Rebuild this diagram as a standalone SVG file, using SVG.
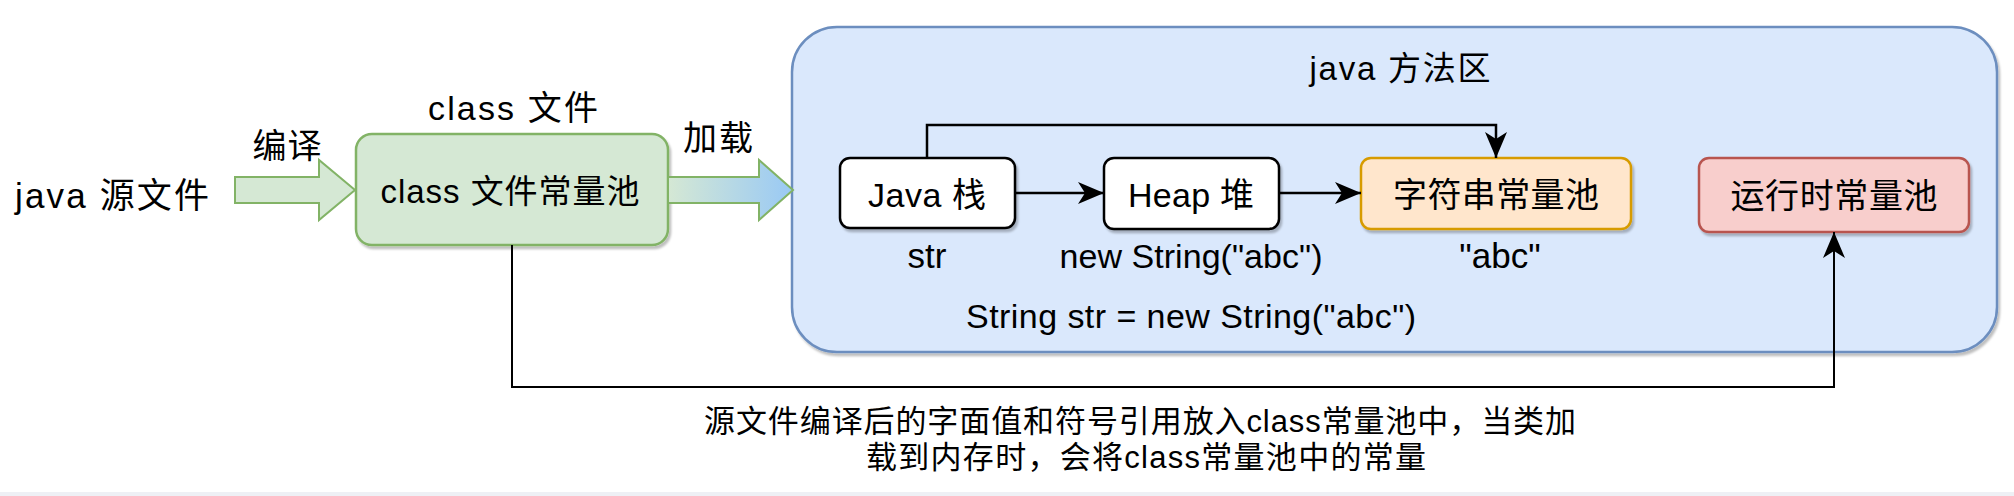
<svg xmlns="http://www.w3.org/2000/svg" width="2014" height="496" viewBox="0 0 2014 496">
<style>
text{font-family:"Liberation Sans","Noto Sans CJK SC",sans-serif;fill:#000}
.c{text-anchor:middle}
.box{stroke-width:2.5;filter:url(#sh)}
.ln{fill:none;stroke:#000;stroke-width:2.5}
</style>
<defs>
<filter id="sh" x="-10%" y="-10%" width="130%" height="140%">
<feDropShadow dx="2" dy="3" stdDeviation="1.2" flood-color="#000" flood-opacity="0.25"/>
</filter>
<linearGradient id="g2" x1="0" y1="0" x2="1" y2="0">
<stop offset="0" stop-color="#d5e8d4"/>
<stop offset="1" stop-color="#99c9f5"/>
</linearGradient>
<marker id="ah" viewBox="0 0 26 22" refX="26" refY="11" markerWidth="26" markerHeight="22" markerUnits="userSpaceOnUse" orient="auto">
<path d="M26,11 L0,0 L7,11 L0,22 Z" fill="#000"/>
</marker>
</defs>
<rect x="0" y="492" width="2014" height="4" fill="#eef0f5"/>

<g id="method-area">
<rect x="792" y="27" width="1205" height="325" rx="45" fill="#dae8fc" stroke="#6c8ebf" class="box"/>
<text x="1400" y="80" class="c" font-size="33" textLength="181" lengthAdjust="spacing">java 方法区</text>
</g>

<g id="java-source">
<text x="15" y="208" font-size="35" textLength="194" lengthAdjust="spacing">java 源文件</text>
</g>

<g id="compile-arrow">
<polygon points="235,177 319,177 319,160 355,190 319,220 319,203 235,203" fill="#d5e8d4" stroke="#82b366" stroke-width="2"/>
<text x="287" y="158" class="c" font-size="34" textLength="69" lengthAdjust="spacing">编译</text>
</g>

<g id="class-file">
<text x="513" y="120" class="c" font-size="34" textLength="170" lengthAdjust="spacing">class 文件</text>
<rect x="356" y="134" width="312" height="111" rx="16" fill="#d5e8d4" stroke="#82b366" class="box"/>
<text x="510" y="203" class="c" font-size="33" textLength="259" lengthAdjust="spacing">class 文件常量池</text>
</g>

<g id="load-arrow">
<polygon points="668,177 759,177 759,160 793,190 759,220 759,203 668,203" fill="url(#g2)" stroke="#82b366" stroke-width="2"/>
<text x="718" y="150" class="c" font-size="34" textLength="70" lengthAdjust="spacing">加载</text>
</g>

<g id="java-stack">
<rect x="840" y="158" width="175" height="70" rx="10" fill="#fff" stroke="#000" class="box"/>
<text x="927" y="207" class="c" font-size="34" textLength="118" lengthAdjust="spacing">Java 栈</text>
<text x="927" y="268" class="c" font-size="35">str</text>
</g>

<g id="heap">
<rect x="1104" y="158" width="175" height="71" rx="10" fill="#fff" stroke="#000" class="box"/>
<text x="1191" y="207" class="c" font-size="34" textLength="126" lengthAdjust="spacing">Heap 堆</text>
<text x="1191" y="268" class="c" font-size="34" textLength="263" lengthAdjust="spacing">new String("abc")</text>
</g>

<g id="string-pool">
<rect x="1361" y="158" width="270" height="71" rx="10" fill="#ffe6cc" stroke="#d79b00" class="box"/>
<text x="1496" y="207" class="c" font-size="34" textLength="206" lengthAdjust="spacing">字符串常量池</text>
<text x="1500" y="268" class="c" font-size="35">"abc"</text>
</g>

<g id="runtime-pool">
<rect x="1699" y="158" width="270" height="74" rx="10" fill="#f8cecc" stroke="#b85450" class="box"/>
<text x="1834" y="208" class="c" font-size="34" textLength="207" lengthAdjust="spacing">运行时常量池</text>
</g>

<g id="code-label">
<text x="1191" y="328" class="c" font-size="34" textLength="450" lengthAdjust="spacing">String str = new String("abc")</text>
</g>

<g id="connectors">
<path d="M1015,193 L1104,193" class="ln" marker-end="url(#ah)"/>
<path d="M1279,193 L1361,193" class="ln" marker-end="url(#ah)"/>
<path d="M927,158 L927,125 L1496,125 L1496,158" class="ln" marker-end="url(#ah)"/>
<path d="M512,245 L512,387 L1834,387 L1834,232" fill="none" stroke="#000" stroke-width="2" marker-end="url(#ah)"/>
</g>

<g id="bottom-note">
<text x="1140" y="432" class="c" font-size="31" textLength="872" lengthAdjust="spacing">源文件编译后的字面值和符号引用放入class常量池中，当类加</text>
<text x="1146" y="468" class="c" font-size="31" textLength="560" lengthAdjust="spacing">载到内存时，会将class常量池中的常量</text>
</g>
</svg>
